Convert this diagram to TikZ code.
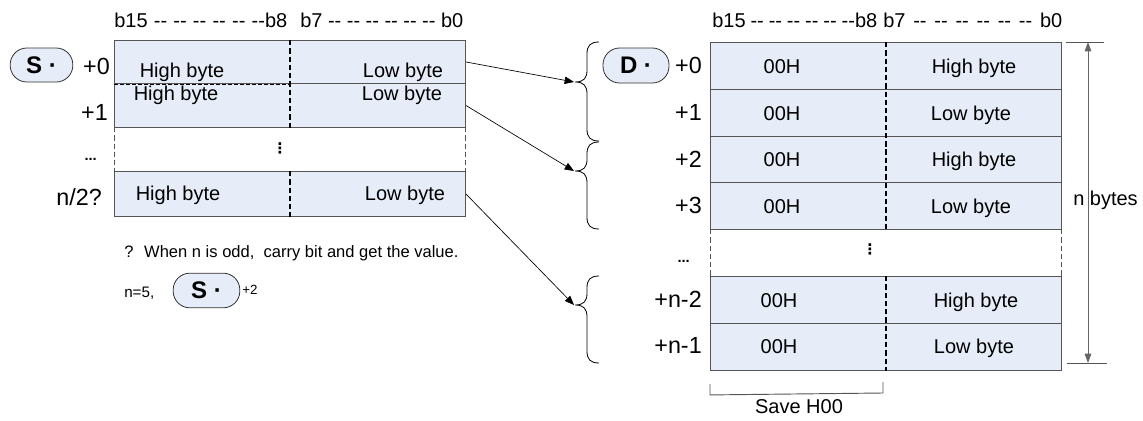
\documentclass[tikz,border=0pt]{standalone}
\usepackage{fontspec}
\setmainfont{Liberation Sans}
\newfontfamily\symfont{DejaVu Sans}
\usetikzlibrary{arrows.meta,calc}
\definecolor{cellfill}{HTML}{E6EDF8}
\definecolor{rowline}{HTML}{555555}
\newcommand\dd{-{}-}
\newcommand\mybrace[3]{%
  \draw[bracestyle] (599,#1) .. controls (590,#1) and (587,{#1+4}) .. (587,{#1+12})
    -- (587,{#2-12}) .. controls (587,{#2-4}) and (584,#2) .. (575,#2)
    .. controls (584,#2) and (587,{#2+4}) .. (587,{#2+12})
    -- (587,{#3-12}) .. controls (587,{#3-4}) and (590,#3) .. (599,#3);}
\begin{document}
\begin{tikzpicture}[x=0.75pt,y=-0.75pt,
  cell/.style={draw=rowline, fill=cellfill, line width=0.7pt, inner sep=0pt, anchor=north west},
  gapcell/.style={inner sep=0pt, anchor=north west},
  txt/.style={font=\fontsize{15}{18}\selectfont, inner sep=0pt, anchor=base},
  hdr/.style={font=\fontsize{15}{18}\selectfont, inner sep=0pt, anchor=base west},
  idx/.style={font=\fontsize{17.5}{20}\selectfont, inner sep=0pt, anchor=base east},
  dots/.style={font=\fontsize{11}{12}\selectfont\bfseries, inner sep=0pt, anchor=base east},
  vdots/.style={font=\symfont\fontsize{11}{12}\selectfont\bfseries, inner sep=0pt},
  pill/.style={draw=black!80, fill=cellfill, line width=0.6pt, rounded corners=12.5pt, inner sep=0pt, font=\fontsize{18}{20}\selectfont\bfseries},
  divider/.style={dash pattern=on 4pt off 2.2pt, line width=0.9pt},
  sidedash/.style={draw=rowline, dash pattern=on 4pt off 2.2pt, line width=0.7pt},
  conn/.style={-{Triangle[length=7pt,width=5.5pt]}, line width=0.5pt},
  bracestyle/.style={line width=0.6pt},
  note/.style={font=\fontsize{12.4}{14}\selectfont, inner sep=0pt, anchor=base west}
]
\useasboundingbox (0,0) rectangle (1143,421);

% ---------- headers ----------
\node[hdr] (hL1) at (114,27) {\makebox[129.75pt][s]{b15 \dd{} \dd{} \dd{} \dd{} \dd{} \dd b8}};
\node[hdr] (hL2) at (300,27) {\makebox[122.25pt][s]{b7 \dd{} \dd{} \dd{} \dd{} \dd{} \dd{} b0}};
\node[hdr] (hR1) at (712,27) {\makebox[123.75pt][s]{b15 \dd{} \dd{} \dd{} \dd{} \dd{} \dd b8}};
\node[hdr] (hR2) at (883,27) {\makebox[134.25pt][s]{b7 \dd{} \dd{} \dd{} \dd{} \dd{} \dd{} b0}};

% ---------- left table ----------
\node[cell, minimum width=263.25pt, minimum height=32.25pt] (L0) at (114,40) {};
\node[cell, minimum width=263.25pt, minimum height=33pt] (L1) at (114,83) {};
\node[gapcell, minimum width=263.25pt, minimum height=33pt] (Ld) at (114,127) {};
\node[cell, minimum width=263.25pt, minimum height=33.75pt] (Ln) at (114,171) {};
\draw[sidedash] (Ld.north west) -- (Ld.south west);
\draw[sidedash] (Ld.north east) -- (Ld.south east);
\draw[divider] (L0.north) -- (L1.south);
\draw[divider] (Ln.north) -- (Ln.south);
\draw[dash pattern=on 3pt off 1.5pt, line width=0.6pt] (L0.south west) -- (L0.south);

\node[txt] (l0h) at (182,77) {High byte};
\node[txt] (l0l) at (403,77) {Low byte};
\node[txt] (l1h) at (176,100) {High byte};
\node[txt] (l1l) at (402,100) {Low byte};
\node[vdots] (ldv) at (280,148) {⋮};
\node[txt] (lnh) at (178,200) {High byte};
\node[txt] (lnl) at (405,200) {Low byte};

\node[pill, minimum width=47pt, minimum height=25.5pt] (S) at (41.5,65) {S ·};
\node[idx] (li0) at (110,74) {+0};
\node[idx] (li1) at (108,120) {+1};
\node[dots] (lid) at (97,160) {...};
\node[idx] (lin) at (102,205) {n/2?};

% note
\node[note] (nt) at (124,257) {? \ When n is odd,\ \ carry bit and get the value.};
\node[note, font=\fontsize{11.4}{13}\selectfont] (n5) at (124,297) {n=5,};
\node[pill, minimum width=50pt, minimum height=26pt] (S2) at (206.5,290.5) {S ·};
\node[note, font=\fontsize{10}{12}\selectfont] (p2) at (242,294) {+2};

% ---------- right table ----------
\foreach \i/\yy in {0/42,1/89,2/136,3/182,5/276,6/323}{
  \node[cell, minimum width=263.25pt, minimum height=35.25pt] (R\i) at (710,\yy) {};
}
\node[gapcell, minimum width=263.25pt, minimum height=35.25pt] (R4) at (710,229) {};
\draw[sidedash] (R4.north west) -- (R4.south west);
\draw[sidedash] (R4.north east) -- (R4.south east);
\draw[divider] (R0.north) -- (R3.south);
\draw[divider] (R5.north) -- (R6.south);

\node[txt] (r0a) at (782,73) {00H};
\node[txt] (r0b) at (974,73) {High byte};
\node[txt] (r1a) at (782,120) {00H};
\node[txt] (r1b) at (971,120) {Low byte};
\node[txt] (r2a) at (782,166) {00H};
\node[txt] (r2b) at (974,166) {High byte};
\node[txt] (r3a) at (782,213) {00H};
\node[txt] (r3b) at (971,213) {Low byte};
\node[vdots] (rdv) at (870,249) {⋮};
\node[txt] (r5a) at (779,307) {00H};
\node[txt] (r5b) at (976,307) {High byte};
\node[txt] (r6a) at (779,353) {00H};
\node[txt] (r6b) at (974,353) {Low byte};

\node[pill, minimum width=49.5pt, minimum height=26.25pt] (D) at (636,65.5) {D ·};
\node[idx] (ri0) at (702,73) {+0};
\node[idx] (ri1) at (702,120) {+1};
\node[idx] (ri2) at (702,167) {+2};
\node[idx] (ri3) at (702,213) {+3};
\node[dots] (rid) at (690,262) {...};
\node[idx] (ri5) at (702,307) {+n-2};
\node[idx] (ri6) at (702,353) {+n-1};

% ---------- braces and arrows ----------
\mybrace{42}{82}{141}
\mybrace{142}{171}{229}
\mybrace{276}{305}{363}
\coordinate (B1) at (574,82);
\coordinate (B2) at (574,171);
\coordinate (B3) at (574,305);
\draw[conn] (L0.east) -- (B1);
\draw[conn] (L1.east) -- (B2);
\draw[conn] (Ln.east) -- (B3);

% ---------- n bytes dimension ----------
\coordinate (nbT) at (1088,42);
\coordinate (nbB) at (1088,363);
\draw[rowline, line width=0.7pt] (1066,42) -- (1104,42);
\draw[rowline, line width=0.7pt] (1067,363) -- (1107,363);
\draw[{Triangle[length=7pt,width=5pt]}-{Triangle[length=7pt,width=5pt]}, line width=0.6pt, draw=black!60] (nbT) -- (nbB);
\node[hdr] (nb) at (1073,205) {n bytes};

% ---------- Save H00 ----------
\draw[rowline, line width=0.7pt] (R6.south west) ++(0,13) coordinate (sv1) -- ++(0,11) -- (883,393) -- (883,382);
\node[txt] (sv) at (799,413) {Save H00};
\end{tikzpicture}
\end{document}
